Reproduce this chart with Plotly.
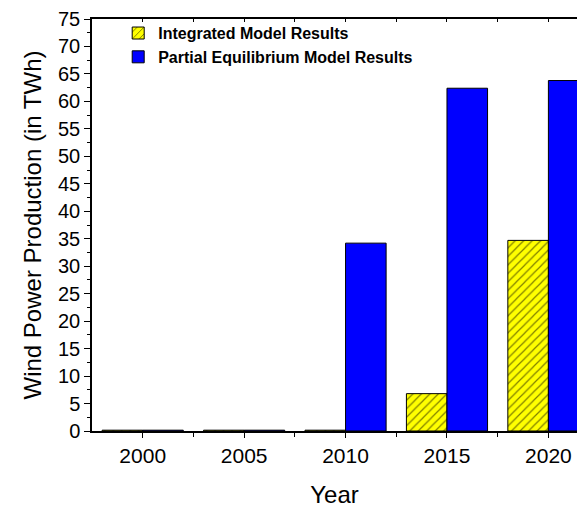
import plotly.graph_objects as go

years = [2000, 2005, 2010, 2015, 2020]
integrated = [0.15, 0.15, 0.15, 6.8, 34.7]
partial_eq = [0.15, 0.15, 34.2, 62.4, 63.8]

fig = go.Figure()

fig.add_trace(go.Bar(
    x=years, y=integrated, name='Integrated Model Results',
    marker=dict(color='#ffff00', line=dict(color='black', width=1),
                pattern=dict(shape='/', fgcolor='black', bgcolor='#ffff00',
                             size=6, solidity=0.2)),
))
fig.add_trace(go.Bar(
    x=years, y=partial_eq, name='Partial Equilibrium Model Results',
    marker=dict(color='#0000ff', line=dict(color='black', width=1)),
))

font_main = 'Liberation Sans, Arial, sans-serif'

fig.update_layout(
    width=577, height=508,
    margin=dict(l=92, r=0, t=19, b=75),
    barmode='group', bargap=0.2, bargroupgap=0,
    plot_bgcolor='white', paper_bgcolor='white',
    font=dict(family=font_main, size=20, color='black'),
    showlegend=True,
    legend=dict(x=0.054, y=1.007, xanchor='left', yanchor='top',
                bgcolor='rgba(0,0,0,0)', tracegroupgap=0,
                font=dict(family=font_main, size=16, color='black', weight='bold')),
    xaxis=dict(
        range=[1997.5, 2021.41], tickvals=years, ticktext=[str(y) for y in years],
        ticks='outside', ticklen=5, tickcolor='black', showline=True,
        linecolor='black', linewidth=1.5, showgrid=False, zeroline=False,
        minor=dict(tickvals=[2002.5, 2007.5, 2012.5, 2017.5], ticks='outside',
                   ticklen=4, tickcolor='black'),
        title=dict(text='Year', standoff=24),
        tickfont=dict(size=21),
    ),
    xaxis2=dict(
        overlaying='x', side='top', range=[1997.5, 2021.41], matches='x',
        tickvals=[2000 + 2.5 * i for i in range(9)], ticks='inside', ticklen=3,
        tickcolor='black', showticklabels=False, showline=True,
        linecolor='black', linewidth=1.5, showgrid=False, zeroline=False,
    ),
    yaxis=dict(
        range=[0, 75], dtick=5, ticks='outside', ticklen=6, tickcolor='black',
        showline=True, linecolor='black', linewidth=1.5, showgrid=False,
        zeroline=False,
        minor=dict(dtick=2.5, ticks='outside', ticklen=3, tickcolor='black'),
        title=dict(text='Wind Power Production (in TWh)', standoff=10),
        tickfont=dict(size=20),
    ),
)

# dummy trace so that the top axis is drawn
fig.add_trace(go.Scatter(x=[2000], y=[0], xaxis='x2', mode='markers',
                         marker=dict(opacity=0), showlegend=False, hoverinfo='skip'))

fig.write_html("out.html", config={'displayModeBar': False},
               post_script="document.body.style.margin='0';")
